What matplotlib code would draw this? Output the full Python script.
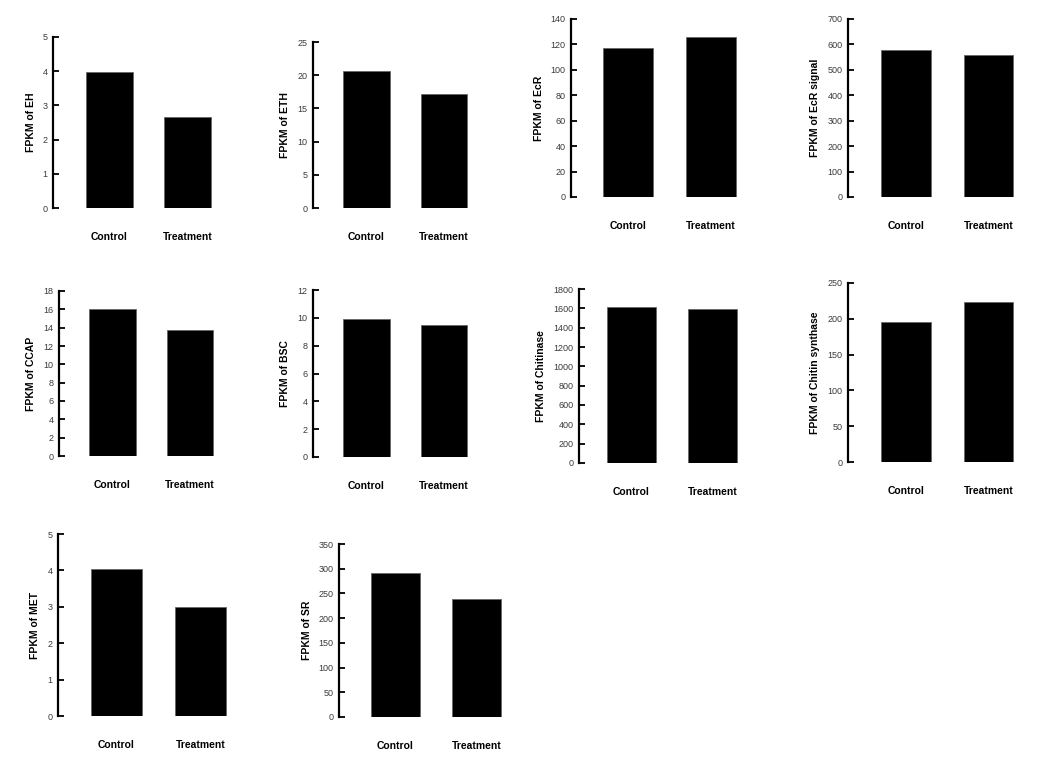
import numpy as np
import matplotlib
matplotlib.use('Agg')
import matplotlib.pyplot as plt

plt.rcParams['font.family'] = ['Liberation Sans', 'DejaVu Sans']

groups = ['Control', 'Treatment']

genes = ['EH', 'ETH', 'EcR', 'EcR signal', 'CCAP', 'BSC',
         'Chitinase', 'Chitin synthase', 'MET', 'SR']
control = [3.97, 20.7, 117.5, 577, 16.0, 9.9, 1617, 196, 4.04, 291]
treatment = [2.67, 17.1, 126, 558, 13.7, 9.48, 1592, 224, 3.0, 238]
ymax = [5, 25, 140, 700, 18, 12, 1800, 250, 5, 350]
ystep = [1, 5, 20, 100, 2, 2, 200, 50, 1, 50]

# pixel layout of each panel: spine x, top y, zero y, control bar left, treatment bar right
layout = [
    (53, 37, 208, 86, 211),
    (313, 42, 208, 343, 467),
    (571, 19, 197, 603, 736),
    (848, 19, 197, 881, 1013),
    (59, 291, 456, 89, 213),
    (313, 290, 457, 343, 467),
    (579, 289, 463, 607, 737),
    (848, 283, 462, 881, 1013),
    (58, 534, 716, 91, 226),
    (339, 544, 717, 371, 501),
]

W, H = 1048, 770
fig = plt.figure(figsize=(W / 100, H / 100), dpi=100)

bar_w = 0.6
for i, gene in enumerate(genes):
    sx, ty, zy, cl, tr = layout[i]
    ppu = (tr - cl) / (1 + bar_w)
    x0 = -bar_w / 2 - (cl - sx) / ppu
    x1 = 1 + bar_w / 2 + 0.15
    ax = fig.add_axes([sx / W, 1 - zy / H, (x1 - x0) * ppu / W, (zy - ty) / H])
    ax.bar([0, 1], [control[i], treatment[i]], width=bar_w,
           color='black', edgecolor='#666666', linewidth=0.6)
    ax.set_xlim(x0, x1)
    ax.set_ylim(0, ymax[i])
    ax.set_yticks(np.arange(0, ymax[i] + ystep[i] / 2, ystep[i]))
    ax.set_xticks([0, 1])
    ax.set_xticklabels(groups, fontsize=7.5, fontweight='bold')
    ax.tick_params(axis='x', length=0, pad=17)
    ax.tick_params(axis='y', direction='in', length=4, width=1.3,
                   labelsize=6.5, labelcolor='#3a3a3a', pad=4)
    for s in ['top', 'right', 'bottom']:
        ax.spines[s].set_visible(False)
    ax.spines['left'].set_linewidth(1.6)
    ax.set_ylabel('FPKM of ' + gene, fontsize=7.5, fontweight='bold', labelpad=5)
    ax.patch.set_alpha(0)

fig.savefig('out.png', dpi=100)
